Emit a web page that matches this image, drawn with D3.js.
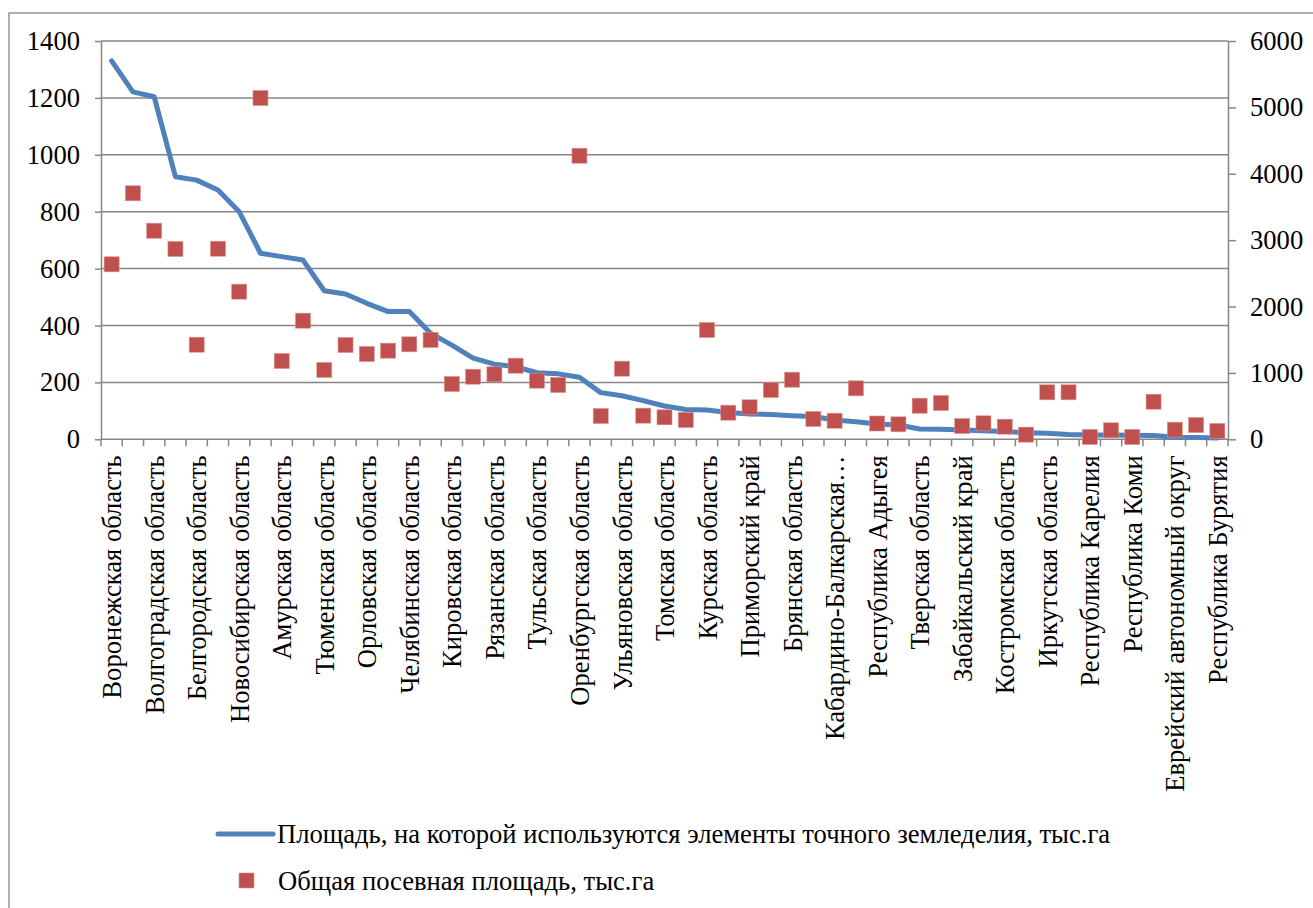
<!DOCTYPE html>
<html lang="ru">
<head>
<meta charset="utf-8">
<script src="https://cdn.jsdelivr.net/npm/d3@7"></script>
<style>
  html, body { margin: 0; padding: 0; background: #fff; }
  svg { display: block; }
  svg text { font-family: "Liberation Serif", "Times New Roman", serif; }
</style>
</head>
<body>
<svg id="chart" width="1313" height="908"></svg>
<script>
// Regions labelled on the category axis (every second category carries a label)
const regionLabels = [
  "Воронежская область", "Волгоградская область", "Белгородская область",
  "Новосибирская область", "Амурская область", "Тюменская область",
  "Орловская область", "Челябинская область", "Кировская область",
  "Рязанская область", "Тульская область", "Оренбургская область",
  "Ульяновская область", "Томская область", "Курская область",
  "Приморский край", "Брянская область", "Кабардино-Балкарская…",
  "Республика Адыгея", "Тверская область", "Забайкальский край",
  "Костромская область", "Иркутская область", "Республика Карелия",
  "Республика Коми", "Еврейский автономный округ", "Республика Бурятия"
];

// Area where precision-farming elements are used, thousand ha (left axis)
const precisionArea = [
  1330, 1221, 1204, 923, 911, 876, 800, 654, 642, 630,
  522, 511, 478, 449, 449, 373, 331, 285, 264, 255,
  234, 230, 218, 164, 153, 136, 117, 105, 103, 94,
  89, 87, 83, 80, 68, 62, 54, 50, 36, 35,
  33, 30, 27, 23, 21, 17, 15, 15, 14, 13,
  7, 6, 5
];

// Total sown area, thousand ha (right axis)
const sownArea = [
  2636, 3706, 3142, 2867, 1425, 2871, 2224, 5141, 1180, 1787,
  1044, 1421, 1285, 1335, 1431, 1496, 833, 943, 979, 1109,
  883, 818, 4272, 351, 1064, 356, 331, 291, 1646, 401,
  482, 743, 898, 306, 280, 768, 238, 226, 506, 547,
  200, 241, 190, 70, 708, 708, 35, 136, 35, 566,
  145, 215, 125
];

const leftTicks = [0, 200, 400, 600, 800, 1000, 1200, 1400];
const rightTicks = [0, 1000, 2000, 3000, 4000, 5000, 6000];

const legendItems = [
  "Площадь, на которой используются элементы точного земледелия, тыс.га",
  "Общая посевная площадь, тыс.га"
];

const lineColor = "#4F81BD";
const markerColor = "#C0504D";
const axisColor = "#868686";
const fontSize = "26.6px";

const svg = d3.select("#chart");
const plot = { left: 101, right: 1228, top: 41, bottom: 439.3 };

const idx = d3.range(precisionArea.length);
const x = d3.scaleBand().domain(idx).range([plot.left, plot.right]).padding(0);
const yL = d3.scaleLinear().domain([0, 1400]).range([plot.bottom, plot.top]);
const yR = d3.scaleLinear().domain([0, 6000]).range([plot.bottom, plot.top]);

// outer chart frame
svg.append("rect")
  .attr("x", 9).attr("y", 13)
  .attr("width", 1400).attr("height", 1000)
  .attr("fill", "none").attr("stroke", axisColor).attr("stroke-width", 1.3);

// horizontal gridlines on the left-axis scale
svg.append("g")
  .selectAll("line")
  .data(leftTicks.filter(d => d > 0))
  .join("line")
  .attr("x1", plot.left).attr("x2", plot.right)
  .attr("y1", d => yL(d)).attr("y2", d => yL(d))
  .attr("stroke", axisColor).attr("stroke-width", 1.5);

// left value axis
const gL = svg.append("g")
  .attr("transform", `translate(${plot.left},0)`)
  .call(d3.axisLeft(yL).tickValues(leftTicks).tickSize(6).tickSizeOuter(0).tickPadding(15).tickFormat(d3.format("d")));

// right value axis
const gR = svg.append("g")
  .attr("transform", `translate(${plot.right},0)`)
  .call(d3.axisRight(yR).tickValues(rightTicks).tickSize(8).tickSizeOuter(0).tickPadding(14).tickFormat(d3.format("d")));

[gL, gR].forEach(g => {
  g.attr("font-family", null).attr("font-size", null);
  g.select(".domain").attr("stroke", axisColor).attr("stroke-width", 1.5);
  g.selectAll(".tick line").attr("stroke", axisColor).attr("stroke-width", 1.5);
  g.selectAll(".tick text").attr("fill", "#000").style("font-size", fontSize);
});

// category axis: baseline, boundary ticks and rotated labels
const bw = x.bandwidth();
const gX = svg.append("g").attr("transform", `translate(0,${plot.bottom})`);
gX.append("line")
  .attr("x1", plot.left).attr("x2", plot.right)
  .attr("stroke", axisColor).attr("stroke-width", 1.5);
gX.selectAll("line.bt")
  .data(d3.range(idx.length + 1))
  .join("line")
  .attr("class", "bt")
  .attr("x1", i => plot.left + i * bw).attr("x2", i => plot.left + i * bw)
  .attr("y1", 0).attr("y2", 7)
  .attr("stroke", axisColor).attr("stroke-width", 1.5);
gX.selectAll("text")
  .data(idx.filter(i => i % 2 === 0))
  .join("text")
  .attr("transform", i => `translate(${x(i) + bw / 2},16) rotate(-90)`)
  .attr("text-anchor", "end")
  .attr("dy", "0.36em")
  .style("font-size", fontSize)
  .attr("fill", "#000")
  .text(i => regionLabels[i / 2]);

// precision-farming area line
const line = d3.line()
  .x((d, i) => x(i) + bw / 2)
  .y(d => yL(d));
svg.append("path")
  .datum(precisionArea)
  .attr("d", line)
  .attr("fill", "none")
  .attr("stroke", lineColor)
  .attr("stroke-width", 5)
  .attr("stroke-linejoin", "round")
  .attr("stroke-linecap", "round");

// sown area markers
const ms = 15;
svg.append("g")
  .selectAll("rect")
  .data(sownArea)
  .join("rect")
  .attr("x", (d, i) => x(i) + bw / 2 - ms / 2)
  .attr("y", d => yR(d) - ms / 2)
  .attr("width", ms).attr("height", ms)
  .attr("fill", markerColor)
  .attr("stroke", "#d9908e").attr("stroke-width", 0.6);

// legend
const lg = svg.append("g").style("font-size", fontSize);
lg.append("line")
  .attr("x1", 218).attr("x2", 273).attr("y1", 834).attr("y2", 834)
  .attr("stroke", lineColor).attr("stroke-width", 5).attr("stroke-linecap", "round");
lg.append("text").attr("x", 277).attr("y", 843).text(legendItems[0]);
lg.append("rect")
  .attr("x", 239).attr("y", 873).attr("width", 15).attr("height", 15)
  .attr("fill", markerColor).attr("stroke", "#d9908e").attr("stroke-width", 0.6);
lg.append("text").attr("x", 278).attr("y", 890).text(legendItems[1]);
</script>
</body>
</html>
